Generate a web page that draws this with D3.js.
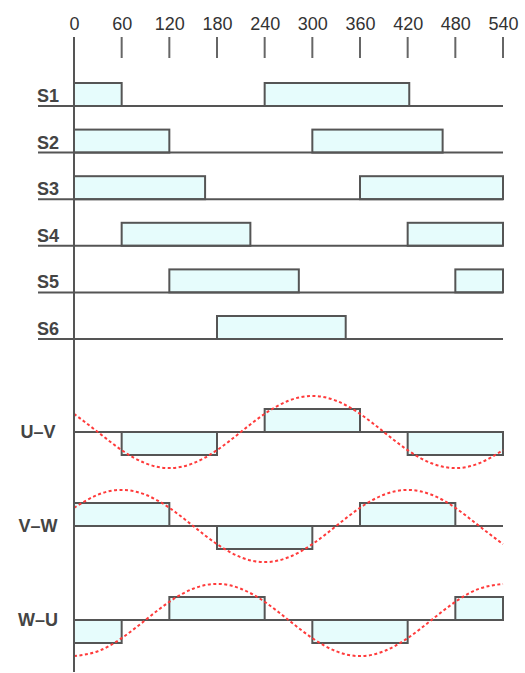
<!DOCTYPE html>
<html>
<head>
<meta charset="utf-8">
<script src="https://cdn.jsdelivr.net/npm/d3@7"></script>
<style>
body { margin: 0; background: #fff; }
text { font-family: "Liberation Sans", Arial, sans-serif; fill: #333; }
</style>
</head>
<body>
<div id="viz"></div>
<script>
// angle ticks (degrees)
var ticks = [0, 60, 120, 180, 240, 300, 360, 420, 480, 540];

// switch signals: on-intervals in degrees
var switchNames = ["S1", "S2", "S3", "S4", "S5", "S6"];
var switchOn = [
	[[0, 60], [240, 422]],
	[[0, 120], [300, 464]],
	[[0, 165], [360, 540]],
	[[60, 222], [420, 540]],
	[[120, 283], [480, 540]],
	[[180, 342]]
];

// line-to-line voltages: [start, end, level]
var lineNames = ["U\u2013V", "V\u2013W", "W\u2013U"];
var linePulses = [
	[[60, 180, -1], [240, 360, 1], [420, 540, -1]],
	[[0, 120, 1], [180, 300, -1], [360, 480, 1]],
	[[0, 60, -1], [120, 240, 1], [300, 420, -1], [480, 540, 1]]
];

// red dotted reference waves, read every 30 degrees (same units as pulse level)
var waveAngles = [0, 30, 60, 90, 120, 150, 180, 210, 240, 270, 300, 330, 360, 390, 420, 450, 480, 510, 540];
var waveValues = [
	[0.79, 0, -0.79, -1.36, -1.57, -1.36, -0.79, 0, 0.79, 1.36, 1.57, 1.36, 0.79, 0, -0.79, -1.36, -1.57, -1.36, -0.79],
	[0.79, 1.36, 1.57, 1.36, 0.79, 0, -0.79, -1.36, -1.57, -1.36, -0.79, 0, 0.79, 1.36, 1.57, 1.36, 0.79, 0, -0.79],
	[-1.57, -1.36, -0.79, 0, 0.79, 1.36, 1.57, 1.36, 0.79, 0, -0.79, -1.36, -1.57, -1.36, -0.79, 0, 0.79, 1.36, 1.57]
];

var viz = { width: 525, height: 673 };
var stroke = "#555";
var fill = "#e6fcfc";

var svg = d3.select("#viz")
	.append("svg")
	.attr("width", viz.width)
	.attr("height", viz.height);

var x = d3.scaleLinear().domain([0, 540]).range([74, 503]);
var ySw = d3.scalePoint().domain(switchNames).range([106, 339]);
var yLine = d3.scalePoint().domain(lineNames).range([432, 620]);
var pulseH = 23;
var level = d3.scaleLinear().domain([-1, 1]).range([pulseH, -pulseH]);

// top axis
var axis = d3.axisTop(x).tickValues(ticks).tickSize(0).tickPadding(0);
var gAxis = svg.append("g").attr("transform", "translate(0,30)").call(axis);
gAxis.select(".domain").remove();
gAxis.selectAll("text")
	.attr("y", 0)
	.style("font-size", "18px")
	.style("fill", "#333");

svg.selectAll(".tick_mark")
	.data(ticks.slice(1)).enter()
	.append("line")
	.attr("class", "tick_mark")
	.attr("x1", function(d) { return x(d) })
	.attr("x2", function(d) { return x(d) })
	.attr("y1", 37)
	.attr("y2", 58)
	.attr("stroke", "#666")
	.attr("stroke-width", 2);

// switch rows
switchNames.forEach(function(name, i) {
	var base = ySw(name);
	var g = svg.append("g");
	g.selectAll("rect")
		.data(switchOn[i]).enter()
		.append("rect")
		.attr("x", function(d) { return x(d[0]) })
		.attr("y", base - pulseH)
		.attr("width", function(d) { return x(d[1]) - x(d[0]) })
		.attr("height", pulseH)
		.attr("fill", fill)
		.attr("stroke", stroke)
		.attr("stroke-width", 2);
	g.append("line")
		.attr("x1", 38).attr("x2", x(540))
		.attr("y1", base).attr("y2", base)
		.attr("stroke", stroke)
		.attr("stroke-width", 2);
	g.append("text")
		.attr("x", 37)
		.attr("y", base - 4)
		.style("font-size", "18px")
		.style("font-weight", "bold")
		.style("fill", "#444")
		.text(name);
});

// line-to-line rows
lineNames.forEach(function(name, i) {
	var base = yLine(name);
	var g = svg.append("g");
	g.append("line")
		.attr("x1", x(0)).attr("x2", x(540))
		.attr("y1", base).attr("y2", base)
		.attr("stroke", stroke)
		.attr("stroke-width", 2);
	g.selectAll("rect")
		.data(linePulses[i]).enter()
		.append("rect")
		.attr("x", function(d) { return x(d[0]) })
		.attr("y", function(d) { return base + Math.min(0, level(d[2])) })
		.attr("width", function(d) { return x(d[1]) - x(d[0]) })
		.attr("height", pulseH)
		.attr("fill", fill)
		.attr("stroke", stroke)
		.attr("stroke-width", 2);
	var wave = d3.line()
		.x(function(d, j) { return x(waveAngles[j]) })
		.y(function(d) { return base + level(d) })
		.curve(d3.curveNatural);
	g.append("path")
		.attr("d", wave(waveValues[i]))
		.attr("fill", "none")
		.attr("stroke", "#ff3b3b")
		.attr("stroke-width", 2)
		.attr("stroke-dasharray", "3,2.5");
	g.append("text")
		.attr("x", 38)
		.attr("y", base + 6)
		.attr("text-anchor", "middle")
		.style("font-size", "18px")
		.style("font-weight", "bold")
		.style("fill", "#444")
		.text(name);
});

// vertical axis
svg.append("line")
	.attr("x1", x(0)).attr("x2", x(0))
	.attr("y1", 37).attr("y2", 672)
	.attr("stroke", stroke)
	.attr("stroke-width", 2);
</script>
</body>
</html>
